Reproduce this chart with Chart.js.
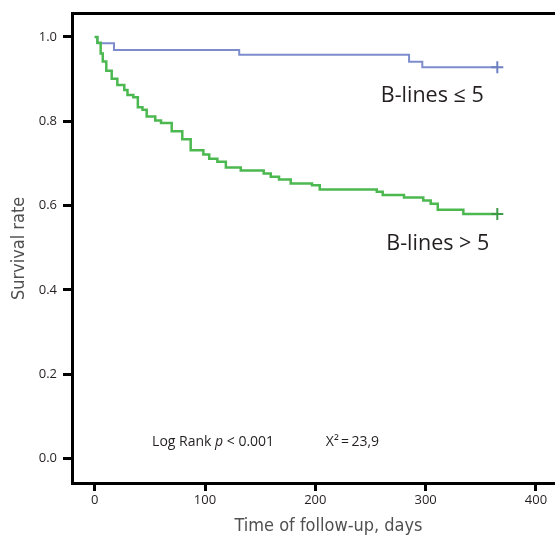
<!DOCTYPE html>
<html>
<head>
<meta charset="utf-8">
<script src="https://cdn.jsdelivr.net/npm/chart.js@4.4.1/dist/chart.umd.min.js"></script>
<style>
  html, body { margin: 0; padding: 0; background: #fff; overflow: hidden; }
  #wrap { width: 555px; height: 540px; overflow: hidden; }
  canvas { display: block; }
</style>
</head>
<body>
<div id="wrap"><canvas id="km" width="585" height="540"></canvas></div>
<script>
// Kaplan-Meier steps: day of each drop and the survival right after it
const lowDays = [0, 2.4, 17.5, 131, 285, 297, 365];
const lowSurvival = [1, 0.985, 0.969, 0.958, 0.941, 0.928, 0.928];

const highDays = [0, 2.4, 5.4, 7.3, 10.5, 15.4, 20.5, 26.8, 29.7, 35,
  39.1, 43.3, 47.1, 54.9, 60.1, 69.8, 79.4, 87, 98.5, 103.8,
  111.2, 118.9, 132.4, 153.2, 159.6, 167.1, 177.7, 197, 204, 255.7,
  261.1, 280.4, 297.9, 304.6, 311, 334.2, 365];
const highSurvival = [1, 0.986, 0.961, 0.942, 0.920, 0.901, 0.886, 0.874, 0.862, 0.857,
  0.833, 0.827, 0.811, 0.802, 0.796, 0.776, 0.757, 0.731, 0.721, 0.711,
  0.704, 0.690, 0.683, 0.676, 0.668, 0.662, 0.652, 0.648, 0.638, 0.633,
  0.625, 0.619, 0.612, 0.604, 0.590, 0.580, 0.580];

const groupNames = ['B-lines \u2264 5', 'B-lines > 5'];
const xTicks = [0, 100, 200, 300, 400];
const yTicks = [0, 0.2, 0.4, 0.6, 0.8, 1.0];

const narrow = "'Liberation Sans Narrow', 'DejaVu Sans Condensed', Roboto, sans-serif";
Chart.defaults.font.family = "'Open Sans', sans-serif";

function toPoints(days, surv) {
  return days.map((d, i) => ({ x: d, y: surv[i] }));
}

// only the last observation gets the censor cross
function censorRadius(ctx) {
  return ctx.dataIndex === ctx.dataset.data.length - 1 ? 6 : 0;
}

// the frame runs on past the right edge, so no side padding from labels
function noSidePadding(s) {
  s.paddingLeft = 0;
  s.paddingRight = 0;
}

// group names and the log-rank result written inside the plot
const notes = {
  id: 'notes',
  afterDatasetsDraw(chart) {
    const { ctx, scales: { x, y } } = chart;
    ctx.save();
    ctx.fillStyle = '#231f20';
    ctx.textBaseline = 'alphabetic';
    ctx.textAlign = 'center';
    ctx.font = "21.5px 'Open Sans'";
    ctx.fillText(groupNames[0], x.getPixelForValue(306), y.getPixelForValue(0.845));
    ctx.fillText(groupNames[1], x.getPixelForValue(311), y.getPixelForValue(0.495));

    ctx.textAlign = 'left';
    const py = y.getPixelForValue(0.029);
    let px = x.getPixelForValue(52);
    const parts = [['Log Rank ', ''], ['p', 'italic '], [' < 0.001', '']];
    parts.forEach(([t, style]) => {
      ctx.font = style + "14px 'Open Sans'";
      ctx.fillText(t, px, py);
      px += ctx.measureText(t).width;
    });
    ctx.font = "14px 'Open Sans'";
    ctx.fillText('X\u00B2\u2009=\u200923,9', x.getPixelForValue(209.5), py);
    ctx.restore();
  }
};

new Chart(document.getElementById('km'), {
  type: 'line',
  data: {
    datasets: [
      {
        label: groupNames[1],
        data: toPoints(highDays, highSurvival),
        stepped: 'before',
        borderColor: '#4cb850',
        borderWidth: 2.5,
        pointStyle: 'cross',
        pointRadius: censorRadius,
        pointBorderColor: '#3f9a48',
        pointBorderWidth: 2
      },
      {
        label: groupNames[0],
        data: toPoints(lowDays, lowSurvival),
        stepped: 'before',
        borderColor: '#7d8dcb',
        borderWidth: 2,
        pointStyle: 'cross',
        pointRadius: censorRadius,
        pointBorderColor: '#6d7fc0',
        pointBorderWidth: 2
      }
    ]
  },
  options: {
    responsive: false,
    animation: false,
    events: [],
    layout: { autoPadding: false, padding: { left: 0, top: 11, right: 0, bottom: 0 } },
    plugins: { legend: { display: false }, tooltip: { enabled: false } },
    scales: {
      x: {
        type: 'linear',
        min: -20.6,
        max: 444.5,
        afterBuildTicks: s => { s.ticks = xTicks.map(v => ({ value: v })); },
        afterFit: s => { s.height = 57; noSidePadding(s); },
        grid: { drawOnChartArea: false, tickLength: 8, tickWidth: 3, tickColor: '#000' },
        border: { display: true, color: '#000', width: 3 },
        ticks: { autoSkip: false, maxRotation: 0, padding: 1, color: '#231f20', font: { size: 13 } },
        title: {
          display: true,
          text: 'Time of follow-up, days',
          color: '#505050',
          font: { family: narrow, size: 18 },
          padding: { top: 0, bottom: 3 }
        }
      },
      xTop: {
        type: 'linear',
        axis: 'x',
        position: 'top',
        min: 0,
        max: 1,
        afterFit: s => { s.height = 0; noSidePadding(s); },
        grid: { display: false },
        ticks: { display: false },
        border: { display: true, color: '#000', width: 3 }
      },
      y: {
        type: 'linear',
        min: -0.0583,
        max: 1.0549,
        afterBuildTicks: s => { s.ticks = yTicks.map(v => ({ value: v })); },
        afterFit: s => { s.width = 72; },
        grid: { drawOnChartArea: false, tickLength: 9, tickWidth: 3, tickColor: '#000' },
        border: { display: true, color: '#000', width: 3 },
        ticks: { padding: 6, color: '#231f20', font: { size: 13 }, callback: v => v.toFixed(1) },
        title: {
          display: true,
          text: 'Survival rate',
          color: '#505050',
          font: { family: narrow, size: 18 },
          padding: { top: 9, bottom: 0 }
        }
      }
    }
  },
  plugins: [notes]
});
</script>
</body>
</html>
